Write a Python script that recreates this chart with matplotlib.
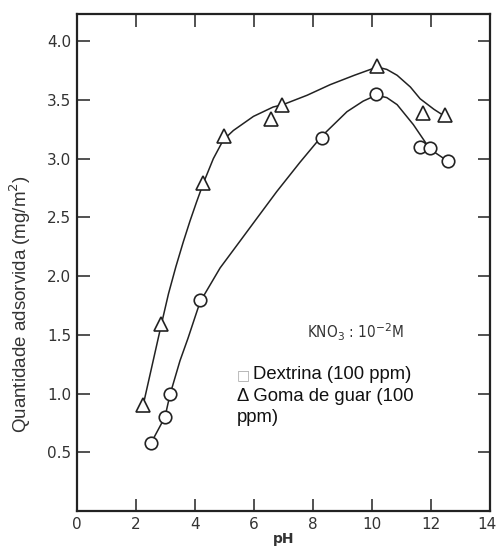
import matplotlib.pyplot as plt
from matplotlib.transforms import ScaledTranslation

# measured points
dex_ph = [2.51, 2.98, 3.15, 4.17, 8.3, 10.14, 11.63, 11.97, 12.56]
dex_q = [0.58, 0.80, 1.00, 1.80, 3.18, 3.55, 3.10, 3.09, 2.98]
guar_ph = [2.22, 2.85, 4.28, 4.98, 6.56, 6.95, 10.16, 11.73, 12.47]
guar_q = [0.90, 1.59, 2.79, 3.19, 3.34, 3.46, 3.79, 3.39, 3.37]

# hand-drawn curves
dex_curve_ph = [2.51, 2.98, 3.15, 3.49, 3.76, 4.17, 4.85, 5.53, 6.09, 6.77,
                7.56, 8.29, 9.15, 9.7, 10.14, 10.5, 10.85, 11.4, 11.86, 11.97, 12.56]
dex_curve_q = [0.58, 0.80, 0.99, 1.28, 1.47, 1.78, 2.07, 2.30, 2.49, 2.72,
               2.97, 3.19, 3.40, 3.49, 3.54, 3.52, 3.46, 3.29, 3.12, 3.08, 2.98]
guar_curve_ph = [2.24, 2.85, 3.1, 3.35, 3.6, 3.83, 4.05, 4.28, 4.62, 4.96, 5.3, 5.98,
                 6.65, 6.98, 7.8, 8.58, 9.4, 10.17, 10.5, 10.85, 11.3, 11.63, 12.1, 12.47]
guar_curve_q = [0.90, 1.58, 1.85, 2.08, 2.29, 2.47, 2.63, 2.79, 3.00, 3.16, 3.24, 3.36,
                3.44, 3.46, 3.54, 3.63, 3.71, 3.78, 3.76, 3.71, 3.61, 3.51, 3.42, 3.36]

x_ticks = [0, 2, 4, 6, 8, 10, 12, 14]
y_ticks = [0.5, 1.0, 1.5, 2.0, 2.5, 3.0, 3.5, 4.0]

fig = plt.figure(figsize=(4.97, 5.46), dpi=100)
ax = fig.add_axes([0.155, 0.064, 0.831, 0.910])

ax.plot(dex_curve_ph, dex_curve_q, color='#222222', lw=1.1, zorder=2)
ax.plot(guar_curve_ph, guar_curve_q, color='#222222', lw=1.1, zorder=2)
ax.plot(dex_ph, dex_q, 'o', ms=9, mfc='white', mec='#222222', mew=1.2, ls='none', zorder=3)
ax.plot(guar_ph, guar_q, '^', ms=10, mfc='white', mec='#222222', mew=1.2, ls='none', zorder=3)

ax.set_xlim(0, 14)
ax.set_ylim(0, 4.23)
ax.set_xticks(x_ticks)
ax.set_xticklabels([str(t) for t in x_ticks])
ax.set_yticks(y_ticks)
ax.set_yticklabels(['%.1f' % t for t in y_ticks])
ax.tick_params(direction='in', length=9, width=1.2, labelsize=11, colors='#333333',
               top=True, right=True, pad=4)
for s in ax.spines.values():
    s.set_linewidth(1.6)
    s.set_color('#222222')

# keep "14" inside the canvas
last = ax.get_xticklabels()[-1]
last.set_transform(last.get_transform() + ScaledTranslation(-2 / 72, 0, fig.dpi_scale_trans))

ax.set_xlabel('pH', fontsize=10, fontweight='bold', labelpad=0, color='#333333')
ax.set_ylabel('Quantidade adsorvida (mg/m$^2$)', fontsize=13.5, family='Liberation Sans',
              color='#333333')
ax.yaxis.set_label_coords(-0.107, 0.4165)

ax.text(7.8, 1.47, r'KNO$_3$ : 10$^{-2}$M', fontsize=11, color='#333333',
        family='DejaVu Sans', fontstretch='condensed')
ax.text(5.42, 1.12, '\u25a1', fontsize=10, color='#aaaaaa', family=['DejaVu Sans'])
ax.text(5.97, 1.12, 'Dextrina (100 ppm)', fontsize=13.3, family=['Liberation Sans'], color='#111111')
ax.text(5.42, 0.94, '\u0394 Goma de guar (100', fontsize=13.3, family=['Liberation Sans'],
        color='#111111')
ax.text(5.42, 0.755, 'ppm)', fontsize=13.3, family=['Liberation Sans'], color='#111111')

fig.savefig('out.png', dpi=100)
